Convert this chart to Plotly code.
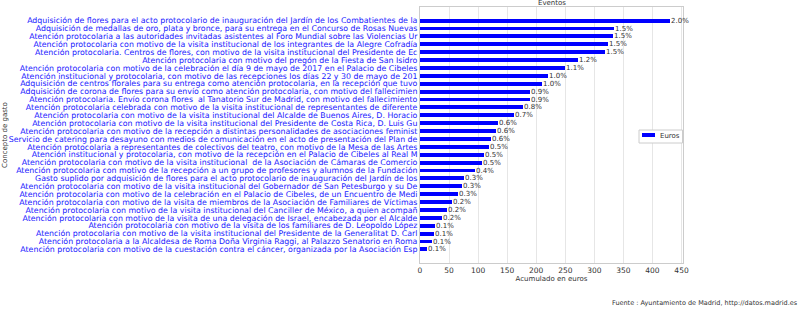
import plotly.graph_objects as go

categories = [
    "Adquisición de flores para el acto protocolario de inauguración del Jardín de los Combatientes de la",
    "Adquisición de medallas de oro, plata y bronce, para su entrega en el Concurso de Rosas Nuevas",
    "Atención protocolaria a las autoridades invitadas asistentes al Foro Mundial sobre las Violencias Ur",
    "Atención protocolaria con motivo de la visita institucional de los integrantes de la Alegre Cofradía",
    "Atención protocolaria. Centros de flores, con motivo de la visita institucional del Presidente de Ec",
    "Atención protocolaria con motivo del pregón de la Fiesta de San Isidro",
    "Atención protocolaria con motivo de la celebración el día 9 de mayo de 2017 en el Palacio de Cibeles",
    "Atención institucional y protocolaria, con motivo de las recepciones los días 22 y 30 de mayo de 201",
    "Adquisición de centros florales para su entrega como atención protocolaria, en la recepción que tuvo",
    "Adquisición de corona de flores para su envío como atención protocolaria, con motivo del fallecimien",
    "Atención protocolaria. Envío corona flores  al Tanatorio Sur de Madrid, con motivo del fallecimiento",
    "Atención protocolaria celebrada con motivo de la visita institucional de representantes de diferente",
    "Atención protocolaria con motivo de la visita institucional del Alcalde de Buenos Aires, D. Horacio",
    "Atención protocolaria con motivo de la visita institucional del Presidente de Costa Rica, D. Luis Gu",
    "Atención protocolaria con motivo de la recepción a distintas personalidades de asociaciones feminist",
    "Servicio de catering para desayuno con medios de comunicación en el acto de presentación del Plan de",
    "Atención protocolaria a representantes de colectivos del teatro, con motivo de la Mesa de las Artes",
    "Atención institucional y protocolaria, con motivo de la recepción en el Palacio de Cibeles al Real M",
    "Atención protocolaria con motivo de la visita institucional  de la Asociación de Cámaras de Comercio",
    "Atención protocolaria con motivo de la recepción a un grupo de profesores y alumnos de la Fundación",
    "Gasto suplido por adquisición de flores para el acto protocolario de inauguración del Jardín de los",
    "Atención protocolaria con motivo de la visita institucional del Gobernador de San Petesburgo y su De",
    "Atención protocolaria con motivo de la celebración en el Palacio de Cibeles, de un Encuentro de Medi",
    "Atención protocolaria con motivo de la visita de miembros de la Asociación de Familiares de Víctimas",
    "Atención protocolaria con motivo de la visita institucional del Canciller de México, a quien acompañ",
    "Atención protocolaria con motivo de la visita de una delegación de Israel, encabezada por el Alcalde",
    "Atención protocolaria con motivo de la visita de los familiares de D. Leopoldo López",
    "Atención protocolaria con motivo de la visita institucional del Presidente de la Generalitat D. Carl",
    "Atención protocolaria a la Alcaldesa de Roma Doña Virginia Raggi, al Palazzo Senatorio en Roma",
    "Atención protocolaria con motivo de la cuestación contra el cáncer, organizada por la Asociación Esp",
]

euros = [431, 333, 332, 323, 319, 272, 250, 220, 210, 190, 190, 178, 162, 135, 131,
         122, 119, 110, 106, 95, 75, 73, 65, 55, 46, 37, 25, 24, 20, 11.5]

pct_labels = ["2.0%", "1.5%", "1.5%", "1.5%", "1.5%", "1.2%", "1.1%", "1.0%", "1.0%", "0.9%",
              "0.9%", "0.8%", "0.7%", "0.6%", "0.6%", "0.6%", "0.5%", "0.5%", "0.5%", "0.4%",
              "0.3%", "0.3%", "0.3%", "0.2%", "0.2%", "0.2%", "0.1%", "0.1%", "0.1%", "0.1%"]

x_ticks = [0, 50, 100, 150, 200, 250, 300, 350, 400, 450]

FONT = "DejaVu Sans"
n = len(categories)
pad = 1.725

fig = go.Figure()
fig.add_trace(go.Bar(
    x=euros, y=categories, orientation="h", width=0.5,
    marker=dict(color="#0000ff", line=dict(width=0)),
    showlegend=False, name="Euros", cliponaxis=False,
))

# percentage labels at bar ends
for cat, val, lab in zip(categories, euros, pct_labels):
    fig.add_annotation(x=val, y=cat, text=lab, xanchor="left", yanchor="middle",
                       showarrow=False, xshift=-1,
                       font=dict(family=FONT, size=7, color="#333333"))

fig.update_layout(
    width=808, height=310,
    margin=dict(l=420, r=125, t=7, b=47, autoexpand=False),
    plot_bgcolor="white", paper_bgcolor="white",
    font=dict(family=FONT, size=7, color="#333333"),
    bargap=0,
    xaxis=dict(
        range=[0, max(euros) * 1.05], tickvals=x_ticks, automargin=False,
        showgrid=True, gridcolor="#e6e6e6", gridwidth=1,
        showline=True, linecolor="#cccccc", linewidth=1, mirror=True,
        zeroline=False, ticks="", tickfont=dict(family=FONT, size=7.5, color="#333333"),
        title=dict(text="Acumulado en euros", font=dict(family=FONT, size=7, color="#333333"), standoff=0),
    ),
    yaxis=dict(
        type="category", range=[n - 1 + pad, -pad], automargin=False,
        tickmode="array", tickvals=categories, ticktext=categories,
        showgrid=False, showline=True, linecolor="#cccccc", linewidth=1, mirror=True,
        ticks="", ticklabelstandoff=0,
        tickfont=dict(family=FONT, size=7.85, color="#1a1aff"),
    ),
)

# title
fig.add_annotation(text="Eventos", xref="paper", yref="paper", x=0.5, y=1.0,
                   yanchor="bottom", showarrow=False, yshift=-2,
                   font=dict(family=FONT, size=7, color="#333333"))
# y title
fig.add_annotation(text="Concepto de gasto", xref="paper", yref="paper",
                   x=(5 - 420) / 263, y=0.5, textangle=-90, showarrow=False,
                   xanchor="center", yanchor="middle",
                   font=dict(family=FONT, size=7, color="#333333"))
# source
fig.add_annotation(text="Fuente : Ayuntamiento de Madrid, http://datos.madrid.es",
                   xref="paper", yref="paper", x=(800 - 420) / 263, y=(263 - 303) / 256,
                   xanchor="right", yanchor="middle", showarrow=False,
                   font=dict(family=FONT, size=6.5, color="#333333"))

# legend (manual)
def px_x(p):
    return (p - 420) / 263

def px_y(p):
    return (263 - p) / 256

fig.add_shape(type="rect", xref="paper", yref="paper",
              x0=px_x(639), x1=px_x(682.5), y0=px_y(143), y1=px_y(130),
              line=dict(color="#cccccc", width=1), fillcolor="white")
fig.add_shape(type="rect", xref="paper", yref="paper",
              x0=px_x(642), x1=px_x(655), y0=px_y(137), y1=px_y(133),
              line=dict(width=0), fillcolor="#0000ff")
fig.add_annotation(text="Euros", xref="paper", yref="paper", x=px_x(658), y=px_y(135.5),
                   xanchor="left", yanchor="middle", showarrow=False,
                   font=dict(family=FONT, size=7, color="#333333"))

fig.write_html("out.html")
